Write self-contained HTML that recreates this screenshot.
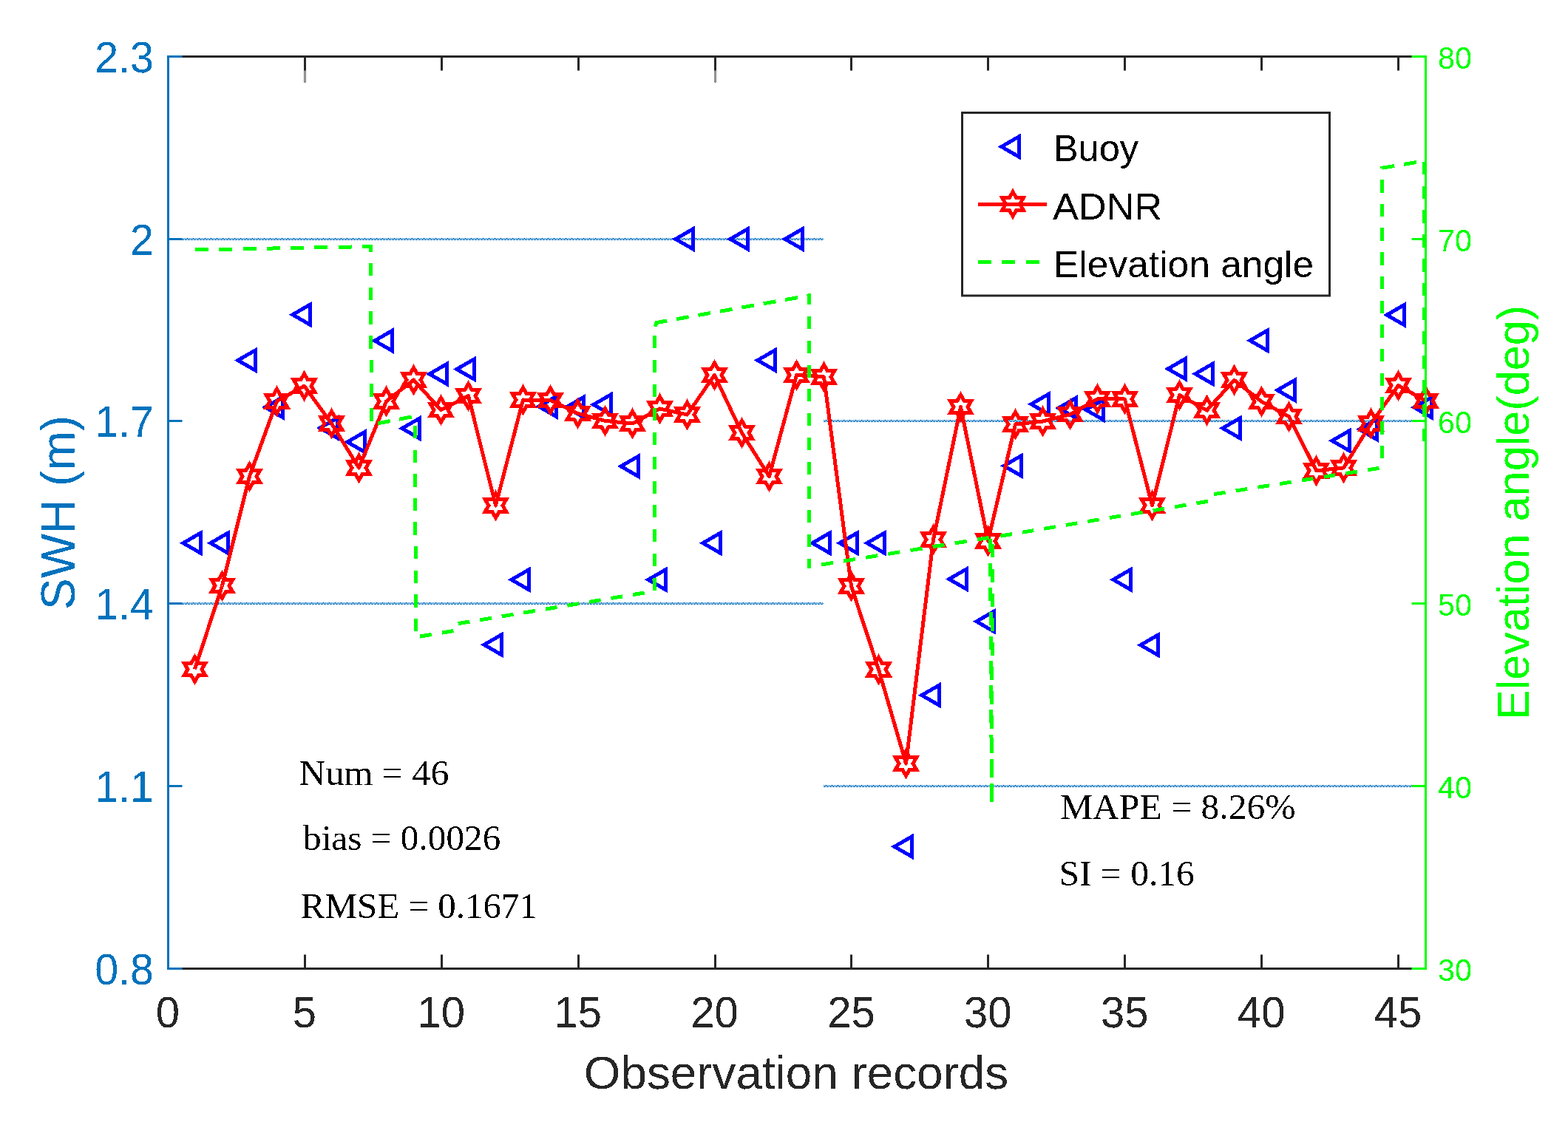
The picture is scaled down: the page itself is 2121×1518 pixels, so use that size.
<!DOCTYPE html>
<html><head><meta charset="utf-8"><title>SWH comparison plot</title>
<style>html,body{margin:0;padding:0;background:#fff;}svg{display:block;}</style></head>
<body>
<svg width="2121" height="1518" viewBox="0 0 2121 1518">
<rect x="0" y="0" width="2121" height="1518" fill="#ffffff"/>
<defs><filter id="bin" x="-10%" y="-20%" width="120%" height="140%" filterUnits="objectBoundingBox" color-interpolation-filters="sRGB"><feComponentTransfer><feFuncA type="discrete" tableValues="0 1"/></feComponentTransfer></filter></defs>
<defs><pattern id="g1" patternUnits="userSpaceOnUse" x="0" y="322" width="8" height="3"><rect x="0" y="0" width="1" height="1" fill="#0070BE"/><rect x="2" y="0" width="1" height="1" fill="#0070BE"/><rect x="4" y="0" width="1" height="1" fill="#0070BE"/><rect x="5" y="0" width="1" height="1" fill="#0070BE"/><rect x="6" y="0" width="1" height="1" fill="#0070BE"/><rect x="1" y="1" width="1" height="1" fill="#0070BE"/><rect x="3" y="1" width="1" height="1" fill="#0070BE"/><rect x="5" y="1" width="1" height="1" fill="#0070BE"/><rect x="7" y="1" width="1" height="1" fill="#0070BE"/><rect x="0" y="2" width="1" height="1" fill="#0070BE"/><rect x="2" y="2" width="1" height="1" fill="#0070BE"/><rect x="3" y="2" width="1" height="1" fill="#0070BE"/><rect x="4" y="2" width="1" height="1" fill="#0070BE"/><rect x="6" y="2" width="1" height="1" fill="#0070BE"/><rect x="7" y="2" width="1" height="1" fill="#0070BE"/></pattern><pattern id="g2" patternUnits="userSpaceOnUse" x="0" y="568" width="8" height="3"><rect x="0" y="0" width="1" height="1" fill="#0070BE"/><rect x="2" y="0" width="1" height="1" fill="#0070BE"/><rect x="4" y="0" width="1" height="1" fill="#0070BE"/><rect x="5" y="0" width="1" height="1" fill="#0070BE"/><rect x="6" y="0" width="1" height="1" fill="#0070BE"/><rect x="1" y="1" width="1" height="1" fill="#0070BE"/><rect x="3" y="1" width="1" height="1" fill="#0070BE"/><rect x="5" y="1" width="1" height="1" fill="#0070BE"/><rect x="7" y="1" width="1" height="1" fill="#0070BE"/><rect x="0" y="2" width="1" height="1" fill="#0070BE"/><rect x="2" y="2" width="1" height="1" fill="#0070BE"/><rect x="3" y="2" width="1" height="1" fill="#0070BE"/><rect x="4" y="2" width="1" height="1" fill="#0070BE"/><rect x="6" y="2" width="1" height="1" fill="#0070BE"/><rect x="7" y="2" width="1" height="1" fill="#0070BE"/></pattern><pattern id="g3" patternUnits="userSpaceOnUse" x="0" y="815" width="8" height="3"><rect x="0" y="0" width="1" height="1" fill="#0070BE"/><rect x="2" y="0" width="1" height="1" fill="#0070BE"/><rect x="4" y="0" width="1" height="1" fill="#0070BE"/><rect x="5" y="0" width="1" height="1" fill="#0070BE"/><rect x="6" y="0" width="1" height="1" fill="#0070BE"/><rect x="1" y="1" width="1" height="1" fill="#0070BE"/><rect x="3" y="1" width="1" height="1" fill="#0070BE"/><rect x="5" y="1" width="1" height="1" fill="#0070BE"/><rect x="7" y="1" width="1" height="1" fill="#0070BE"/><rect x="0" y="2" width="1" height="1" fill="#0070BE"/><rect x="2" y="2" width="1" height="1" fill="#0070BE"/><rect x="3" y="2" width="1" height="1" fill="#0070BE"/><rect x="4" y="2" width="1" height="1" fill="#0070BE"/><rect x="6" y="2" width="1" height="1" fill="#0070BE"/><rect x="7" y="2" width="1" height="1" fill="#0070BE"/></pattern><pattern id="g4" patternUnits="userSpaceOnUse" x="0" y="1062" width="8" height="3"><rect x="0" y="0" width="1" height="1" fill="#0070BE"/><rect x="2" y="0" width="1" height="1" fill="#0070BE"/><rect x="4" y="0" width="1" height="1" fill="#0070BE"/><rect x="5" y="0" width="1" height="1" fill="#0070BE"/><rect x="6" y="0" width="1" height="1" fill="#0070BE"/><rect x="1" y="1" width="1" height="1" fill="#0070BE"/><rect x="3" y="1" width="1" height="1" fill="#0070BE"/><rect x="5" y="1" width="1" height="1" fill="#0070BE"/><rect x="7" y="1" width="1" height="1" fill="#0070BE"/><rect x="0" y="2" width="1" height="1" fill="#0070BE"/><rect x="2" y="2" width="1" height="1" fill="#0070BE"/><rect x="3" y="2" width="1" height="1" fill="#0070BE"/><rect x="4" y="2" width="1" height="1" fill="#0070BE"/><rect x="6" y="2" width="1" height="1" fill="#0070BE"/><rect x="7" y="2" width="1" height="1" fill="#0070BE"/></pattern></defs>
<rect x="228" y="322" width="886" height="3" fill="url(#g1)"/>
<rect x="1114" y="568" width="796" height="3" fill="url(#g2)"/>
<rect x="228" y="815" width="886" height="3" fill="url(#g3)"/>
<rect x="1114" y="1062" width="813" height="3" fill="url(#g4)"/>
<defs><pattern id="tk0" patternUnits="userSpaceOnUse" x="411" y="95" width="2" height="2"><rect x="1" y="0" width="1" height="1" fill="#262626"/><rect x="0" y="1" width="1" height="1" fill="#262626"/></pattern></defs>
<rect x="411" y="95" width="3" height="17" fill="url(#tk0)"/>
<defs><pattern id="tk1" patternUnits="userSpaceOnUse" x="966" y="95" width="2" height="2"><rect x="1" y="0" width="1" height="1" fill="#262626"/><rect x="0" y="1" width="1" height="1" fill="#262626"/></pattern></defs>
<rect x="966" y="95" width="3" height="17" fill="url(#tk1)"/>
<path d="M247.85,734.70 L271.32,721.15 L271.32,748.25 Z M284.85,734.70 L308.32,721.15 L308.32,748.25 Z M321.85,487.50 L345.32,473.95 L345.32,501.05 Z M358.85,551.00 L382.32,537.45 L382.32,564.55 Z M395.85,425.70 L419.32,412.15 L419.32,439.25 Z M432.85,579.00 L456.32,565.45 L456.32,592.55 Z M469.85,598.00 L493.32,584.45 L493.32,611.55 Z M506.85,461.00 L530.33,447.45 L530.33,474.55 Z M543.85,579.60 L567.33,566.05 L567.33,593.15 Z M580.85,506.00 L604.33,492.45 L604.33,519.55 Z M617.85,499.50 L641.33,485.95 L641.33,513.05 Z M654.85,872.30 L678.33,858.75 L678.33,885.85 Z M691.85,784.30 L715.33,770.75 L715.33,797.85 Z M728.85,550.00 L752.33,536.45 L752.33,563.55 Z M765.85,551.00 L789.33,537.45 L789.33,564.55 Z M802.85,547.40 L826.33,533.85 L826.33,560.95 Z M839.85,630.90 L863.33,617.35 L863.33,644.45 Z M876.85,784.30 L900.33,770.75 L900.33,797.85 Z M913.85,323.40 L937.33,309.85 L937.33,336.95 Z M950.85,734.70 L974.33,721.15 L974.33,748.25 Z M987.85,323.40 L1011.33,309.85 L1011.33,336.95 Z M1024.85,487.40 L1048.33,473.85 L1048.33,500.95 Z M1061.85,323.40 L1085.33,309.85 L1085.33,336.95 Z M1098.85,734.70 L1122.33,721.15 L1122.33,748.25 Z M1135.85,734.70 L1159.33,721.15 L1159.33,748.25 Z M1172.85,734.70 L1196.33,721.15 L1196.33,748.25 Z M1209.85,1145.40 L1233.33,1131.85 L1233.33,1158.95 Z M1246.85,940.60 L1270.33,927.05 L1270.33,954.15 Z M1283.85,783.50 L1307.33,769.95 L1307.33,797.05 Z M1320.85,840.80 L1344.33,827.25 L1344.33,854.35 Z M1357.85,630.20 L1381.33,616.65 L1381.33,643.75 Z M1394.85,546.80 L1418.33,533.25 L1418.33,560.35 Z M1431.85,552.00 L1455.33,538.45 L1455.33,565.55 Z M1468.85,554.40 L1492.33,540.85 L1492.33,567.95 Z M1505.85,784.20 L1529.33,770.65 L1529.33,797.75 Z M1542.85,872.70 L1566.33,859.15 L1566.33,886.25 Z M1579.85,499.00 L1603.33,485.45 L1603.33,512.55 Z M1616.85,505.80 L1640.33,492.25 L1640.33,519.35 Z M1653.85,579.30 L1677.33,565.75 L1677.33,592.85 Z M1690.85,460.70 L1714.33,447.15 L1714.33,474.25 Z M1727.85,527.90 L1751.33,514.35 L1751.33,541.45 Z M1801.85,596.30 L1825.33,582.75 L1825.33,609.85 Z M1838.85,580.90 L1862.33,567.35 L1862.33,594.45 Z M1875.85,426.10 L1899.33,412.55 L1899.33,439.65 Z M1912.85,551.20 L1936.33,537.65 L1936.33,564.75 Z" fill="none" stroke="#0000FF" stroke-width="5" stroke-linejoin="miter" stroke-miterlimit="10" shape-rendering="crispEdges"/>
<polyline points="263.50,905.50 300.50,792.50 337.50,644.50 374.50,542.80 411.50,522.20 448.50,573.00 485.50,633.00 522.50,543.00 559.50,514.00 596.50,554.70 633.50,535.70 670.50,684.00 707.50,541.00 744.50,541.50 781.50,559.30 818.50,569.40 855.50,573.00 892.50,553.00 929.50,561.00 966.50,507.50 1003.50,585.70 1040.50,644.60 1077.50,507.50 1114.50,510.00 1151.50,793.00 1188.50,905.80 1225.50,1033.00 1262.50,730.00 1299.50,550.60 1336.50,732.00 1373.50,574.00 1410.50,570.00 1447.50,560.70 1484.50,539.80 1521.50,540.00 1558.50,683.80 1595.50,534.60 1632.50,555.20 1669.50,514.20 1706.50,543.30 1743.50,563.60 1780.50,636.80 1817.50,632.90 1854.50,573.00 1891.50,521.60 1928.50,542.30" fill="none" stroke="#FF0000" stroke-width="5" stroke-linejoin="round" shape-rendering="crispEdges"/>
<path d="M263.50,889.00 L258.74,897.25 L249.21,897.25 L253.97,905.50 L249.21,913.75 L258.74,913.75 L263.50,922.00 L268.26,913.75 L277.79,913.75 L273.03,905.50 L277.79,897.25 L268.26,897.25 Z M300.50,776.00 L295.74,784.25 L286.21,784.25 L290.97,792.50 L286.21,800.75 L295.74,800.75 L300.50,809.00 L305.26,800.75 L314.79,800.75 L310.03,792.50 L314.79,784.25 L305.26,784.25 Z M337.50,628.00 L332.74,636.25 L323.21,636.25 L327.97,644.50 L323.21,652.75 L332.74,652.75 L337.50,661.00 L342.26,652.75 L351.79,652.75 L347.03,644.50 L351.79,636.25 L342.26,636.25 Z M374.50,526.30 L369.74,534.55 L360.21,534.55 L364.97,542.80 L360.21,551.05 L369.74,551.05 L374.50,559.30 L379.26,551.05 L388.79,551.05 L384.03,542.80 L388.79,534.55 L379.26,534.55 Z M411.50,505.70 L406.74,513.95 L397.21,513.95 L401.97,522.20 L397.21,530.45 L406.74,530.45 L411.50,538.70 L416.26,530.45 L425.79,530.45 L421.03,522.20 L425.79,513.95 L416.26,513.95 Z M448.50,556.50 L443.74,564.75 L434.21,564.75 L438.97,573.00 L434.21,581.25 L443.74,581.25 L448.50,589.50 L453.26,581.25 L462.79,581.25 L458.03,573.00 L462.79,564.75 L453.26,564.75 Z M485.50,616.50 L480.74,624.75 L471.21,624.75 L475.97,633.00 L471.21,641.25 L480.74,641.25 L485.50,649.50 L490.26,641.25 L499.79,641.25 L495.03,633.00 L499.79,624.75 L490.26,624.75 Z M522.50,526.50 L517.74,534.75 L508.21,534.75 L512.97,543.00 L508.21,551.25 L517.74,551.25 L522.50,559.50 L527.26,551.25 L536.79,551.25 L532.03,543.00 L536.79,534.75 L527.26,534.75 Z M559.50,497.50 L554.74,505.75 L545.21,505.75 L549.97,514.00 L545.21,522.25 L554.74,522.25 L559.50,530.50 L564.26,522.25 L573.79,522.25 L569.03,514.00 L573.79,505.75 L564.26,505.75 Z M596.50,538.20 L591.74,546.45 L582.21,546.45 L586.97,554.70 L582.21,562.95 L591.74,562.95 L596.50,571.20 L601.26,562.95 L610.79,562.95 L606.03,554.70 L610.79,546.45 L601.26,546.45 Z M633.50,519.20 L628.74,527.45 L619.21,527.45 L623.97,535.70 L619.21,543.95 L628.74,543.95 L633.50,552.20 L638.26,543.95 L647.79,543.95 L643.03,535.70 L647.79,527.45 L638.26,527.45 Z M670.50,667.50 L665.74,675.75 L656.21,675.75 L660.97,684.00 L656.21,692.25 L665.74,692.25 L670.50,700.50 L675.26,692.25 L684.79,692.25 L680.03,684.00 L684.79,675.75 L675.26,675.75 Z M707.50,524.50 L702.74,532.75 L693.21,532.75 L697.97,541.00 L693.21,549.25 L702.74,549.25 L707.50,557.50 L712.26,549.25 L721.79,549.25 L717.03,541.00 L721.79,532.75 L712.26,532.75 Z M744.50,525.00 L739.74,533.25 L730.21,533.25 L734.97,541.50 L730.21,549.75 L739.74,549.75 L744.50,558.00 L749.26,549.75 L758.79,549.75 L754.03,541.50 L758.79,533.25 L749.26,533.25 Z M781.50,542.80 L776.74,551.05 L767.21,551.05 L771.97,559.30 L767.21,567.55 L776.74,567.55 L781.50,575.80 L786.26,567.55 L795.79,567.55 L791.03,559.30 L795.79,551.05 L786.26,551.05 Z M818.50,552.90 L813.74,561.15 L804.21,561.15 L808.97,569.40 L804.21,577.65 L813.74,577.65 L818.50,585.90 L823.26,577.65 L832.79,577.65 L828.03,569.40 L832.79,561.15 L823.26,561.15 Z M855.50,556.50 L850.74,564.75 L841.21,564.75 L845.97,573.00 L841.21,581.25 L850.74,581.25 L855.50,589.50 L860.26,581.25 L869.79,581.25 L865.03,573.00 L869.79,564.75 L860.26,564.75 Z M892.50,536.50 L887.74,544.75 L878.21,544.75 L882.97,553.00 L878.21,561.25 L887.74,561.25 L892.50,569.50 L897.26,561.25 L906.79,561.25 L902.03,553.00 L906.79,544.75 L897.26,544.75 Z M929.50,544.50 L924.74,552.75 L915.21,552.75 L919.97,561.00 L915.21,569.25 L924.74,569.25 L929.50,577.50 L934.26,569.25 L943.79,569.25 L939.03,561.00 L943.79,552.75 L934.26,552.75 Z M966.50,491.00 L961.74,499.25 L952.21,499.25 L956.97,507.50 L952.21,515.75 L961.74,515.75 L966.50,524.00 L971.26,515.75 L980.79,515.75 L976.03,507.50 L980.79,499.25 L971.26,499.25 Z M1003.50,569.20 L998.74,577.45 L989.21,577.45 L993.97,585.70 L989.21,593.95 L998.74,593.95 L1003.50,602.20 L1008.26,593.95 L1017.79,593.95 L1013.03,585.70 L1017.79,577.45 L1008.26,577.45 Z M1040.50,628.10 L1035.74,636.35 L1026.21,636.35 L1030.97,644.60 L1026.21,652.85 L1035.74,652.85 L1040.50,661.10 L1045.26,652.85 L1054.79,652.85 L1050.03,644.60 L1054.79,636.35 L1045.26,636.35 Z M1077.50,491.00 L1072.74,499.25 L1063.21,499.25 L1067.97,507.50 L1063.21,515.75 L1072.74,515.75 L1077.50,524.00 L1082.26,515.75 L1091.79,515.75 L1087.03,507.50 L1091.79,499.25 L1082.26,499.25 Z M1114.50,493.50 L1109.74,501.75 L1100.21,501.75 L1104.97,510.00 L1100.21,518.25 L1109.74,518.25 L1114.50,526.50 L1119.26,518.25 L1128.79,518.25 L1124.03,510.00 L1128.79,501.75 L1119.26,501.75 Z M1151.50,776.50 L1146.74,784.75 L1137.21,784.75 L1141.97,793.00 L1137.21,801.25 L1146.74,801.25 L1151.50,809.50 L1156.26,801.25 L1165.79,801.25 L1161.03,793.00 L1165.79,784.75 L1156.26,784.75 Z M1188.50,889.30 L1183.74,897.55 L1174.21,897.55 L1178.97,905.80 L1174.21,914.05 L1183.74,914.05 L1188.50,922.30 L1193.26,914.05 L1202.79,914.05 L1198.03,905.80 L1202.79,897.55 L1193.26,897.55 Z M1225.50,1016.50 L1220.74,1024.75 L1211.21,1024.75 L1215.97,1033.00 L1211.21,1041.25 L1220.74,1041.25 L1225.50,1049.50 L1230.26,1041.25 L1239.79,1041.25 L1235.03,1033.00 L1239.79,1024.75 L1230.26,1024.75 Z M1262.50,713.50 L1257.74,721.75 L1248.21,721.75 L1252.97,730.00 L1248.21,738.25 L1257.74,738.25 L1262.50,746.50 L1267.26,738.25 L1276.79,738.25 L1272.03,730.00 L1276.79,721.75 L1267.26,721.75 Z M1299.50,534.10 L1294.74,542.35 L1285.21,542.35 L1289.97,550.60 L1285.21,558.85 L1294.74,558.85 L1299.50,567.10 L1304.26,558.85 L1313.79,558.85 L1309.03,550.60 L1313.79,542.35 L1304.26,542.35 Z M1336.50,715.50 L1331.74,723.75 L1322.21,723.75 L1326.97,732.00 L1322.21,740.25 L1331.74,740.25 L1336.50,748.50 L1341.26,740.25 L1350.79,740.25 L1346.03,732.00 L1350.79,723.75 L1341.26,723.75 Z M1373.50,557.50 L1368.74,565.75 L1359.21,565.75 L1363.97,574.00 L1359.21,582.25 L1368.74,582.25 L1373.50,590.50 L1378.26,582.25 L1387.79,582.25 L1383.03,574.00 L1387.79,565.75 L1378.26,565.75 Z M1410.50,553.50 L1405.74,561.75 L1396.21,561.75 L1400.97,570.00 L1396.21,578.25 L1405.74,578.25 L1410.50,586.50 L1415.26,578.25 L1424.79,578.25 L1420.03,570.00 L1424.79,561.75 L1415.26,561.75 Z M1447.50,544.20 L1442.74,552.45 L1433.21,552.45 L1437.97,560.70 L1433.21,568.95 L1442.74,568.95 L1447.50,577.20 L1452.26,568.95 L1461.79,568.95 L1457.03,560.70 L1461.79,552.45 L1452.26,552.45 Z M1484.50,523.30 L1479.74,531.55 L1470.21,531.55 L1474.97,539.80 L1470.21,548.05 L1479.74,548.05 L1484.50,556.30 L1489.26,548.05 L1498.79,548.05 L1494.03,539.80 L1498.79,531.55 L1489.26,531.55 Z M1521.50,523.50 L1516.74,531.75 L1507.21,531.75 L1511.97,540.00 L1507.21,548.25 L1516.74,548.25 L1521.50,556.50 L1526.26,548.25 L1535.79,548.25 L1531.03,540.00 L1535.79,531.75 L1526.26,531.75 Z M1558.50,667.30 L1553.74,675.55 L1544.21,675.55 L1548.97,683.80 L1544.21,692.05 L1553.74,692.05 L1558.50,700.30 L1563.26,692.05 L1572.79,692.05 L1568.03,683.80 L1572.79,675.55 L1563.26,675.55 Z M1595.50,518.10 L1590.74,526.35 L1581.21,526.35 L1585.97,534.60 L1581.21,542.85 L1590.74,542.85 L1595.50,551.10 L1600.26,542.85 L1609.79,542.85 L1605.03,534.60 L1609.79,526.35 L1600.26,526.35 Z M1632.50,538.70 L1627.74,546.95 L1618.21,546.95 L1622.97,555.20 L1618.21,563.45 L1627.74,563.45 L1632.50,571.70 L1637.26,563.45 L1646.79,563.45 L1642.03,555.20 L1646.79,546.95 L1637.26,546.95 Z M1669.50,497.70 L1664.74,505.95 L1655.21,505.95 L1659.97,514.20 L1655.21,522.45 L1664.74,522.45 L1669.50,530.70 L1674.26,522.45 L1683.79,522.45 L1679.03,514.20 L1683.79,505.95 L1674.26,505.95 Z M1706.50,526.80 L1701.74,535.05 L1692.21,535.05 L1696.97,543.30 L1692.21,551.55 L1701.74,551.55 L1706.50,559.80 L1711.26,551.55 L1720.79,551.55 L1716.03,543.30 L1720.79,535.05 L1711.26,535.05 Z M1743.50,547.10 L1738.74,555.35 L1729.21,555.35 L1733.97,563.60 L1729.21,571.85 L1738.74,571.85 L1743.50,580.10 L1748.26,571.85 L1757.79,571.85 L1753.03,563.60 L1757.79,555.35 L1748.26,555.35 Z M1780.50,620.30 L1775.74,628.55 L1766.21,628.55 L1770.97,636.80 L1766.21,645.05 L1775.74,645.05 L1780.50,653.30 L1785.26,645.05 L1794.79,645.05 L1790.03,636.80 L1794.79,628.55 L1785.26,628.55 Z M1817.50,616.40 L1812.74,624.65 L1803.21,624.65 L1807.97,632.90 L1803.21,641.15 L1812.74,641.15 L1817.50,649.40 L1822.26,641.15 L1831.79,641.15 L1827.03,632.90 L1831.79,624.65 L1822.26,624.65 Z M1854.50,556.50 L1849.74,564.75 L1840.21,564.75 L1844.97,573.00 L1840.21,581.25 L1849.74,581.25 L1854.50,589.50 L1859.26,581.25 L1868.79,581.25 L1864.03,573.00 L1868.79,564.75 L1859.26,564.75 Z M1891.50,505.10 L1886.74,513.35 L1877.21,513.35 L1881.97,521.60 L1877.21,529.85 L1886.74,529.85 L1891.50,538.10 L1896.26,529.85 L1905.79,529.85 L1901.03,521.60 L1905.79,513.35 L1896.26,513.35 Z M1928.50,525.80 L1923.74,534.05 L1914.21,534.05 L1918.97,542.30 L1914.21,550.55 L1923.74,550.55 L1928.50,558.80 L1933.26,550.55 L1942.79,550.55 L1938.03,542.30 L1942.79,534.05 L1933.26,534.05 Z" fill="none" stroke="#FF0000" stroke-width="5" stroke-linejoin="miter" stroke-miterlimit="10" shape-rendering="crispEdges"/>
<path d="M264.00,338.00 L282.00,337.66 M296.29,337.39 L314.29,337.05 M328.59,336.78 L346.59,336.43 M360.88,336.16 L378.88,335.82 M393.18,335.55 L411.17,335.21 M425.47,334.94 L443.47,334.60 M457.77,334.33 L475.76,333.99 M490.06,333.71 L501.40,333.50 L501.43,340.83 M501.49,356.00 L501.57,373.50 M501.63,388.67 L501.70,406.17 M501.76,421.34 L501.84,438.84 M501.90,454.01 L501.97,471.51 M502.04,486.68 L502.11,504.18 M502.17,519.35 L502.24,536.85 M502.31,552.02 L502.38,569.52 M511.04,572.82 L527.73,569.57 M539.99,567.18 L556.68,563.94 M561.54,576.00 L561.59,593.50 M561.64,608.60 L561.69,626.10 M561.74,641.20 L561.79,658.70 M561.83,673.80 L561.89,691.30 M561.93,706.40 L561.98,723.90 M562.03,739.00 L562.08,756.50 M562.13,771.60 L562.18,789.10 M562.23,804.20 L562.28,821.70 M562.32,836.80 L562.38,854.30 M567.92,861.08 L583.71,858.46 M598.01,856.08 L613.50,853.50 M619.63,843.65 L635.42,841.04 M649.17,838.77 L664.96,836.16 M678.71,833.89 L694.50,831.28 M708.25,829.01 L724.04,826.40 M737.79,824.12 L753.57,821.52 M767.33,819.24 L783.11,816.63 M796.87,814.36 L812.65,811.75 M826.41,809.48 L842.19,806.87 M855.95,804.60 L871.73,801.99 M885.00,798.50 L885.00,781.50 M885.00,765.75 L885.00,748.75 M885.00,733.00 L885.00,716.00 M885.00,700.25 L885.00,683.25 M885.00,667.50 L885.00,650.50 M885.00,634.75 L885.00,617.75 M885.00,602.00 L885.00,585.00 M885.00,569.25 L885.00,552.25 M885.00,536.50 L885.00,519.50 M885.00,503.75 L885.00,486.75 M885.00,471.00 L885.00,454.00 M886.32,441.80 L888.00,436.50 L902.28,433.96 M914.98,431.71 L931.71,428.73 M944.42,426.47 L961.15,423.50 M973.85,421.24 L990.59,418.27 M1003.29,416.01 L1020.03,413.03 M1032.73,410.78 L1049.47,407.80 M1062.17,405.55 L1078.91,402.57 M1091.61,400.31 L1094.50,399.80 L1094.52,412.20 M1094.54,428.00 L1094.56,445.00 M1094.58,460.80 L1094.61,477.80 M1094.63,493.60 L1094.65,510.60 M1094.67,526.40 L1094.70,543.40 M1094.72,559.20 L1094.74,576.20 M1094.76,592.00 L1094.79,609.00 M1094.81,624.80 L1094.83,641.80 M1094.85,657.60 L1094.87,674.60 M1094.90,690.40 L1094.92,707.40 M1094.94,723.20 L1094.96,740.20 M1094.99,756.00 L1095.00,766.50 L1096.88,766.20 M1110.99,763.93 L1126.99,761.36 M1141.11,759.09 L1157.10,756.52 M1171.22,754.25 L1187.22,751.68 M1201.34,749.41 L1217.33,746.84 M1231.45,744.57 L1247.44,742.00 M1261.56,739.73 L1277.56,737.16 M1291.68,734.89 L1307.67,732.32 M1321.79,730.05 L1337.78,727.48 M1339.51,728.80 L1339.61,746.80 M1339.69,761.90 L1339.79,779.90 M1339.88,795.00 L1339.98,813.00 M1340.06,828.10 L1340.16,846.10 M1340.25,861.20 L1340.35,879.20 M1340.43,894.30 L1340.53,912.30 M1340.62,927.40 L1340.72,945.40 M1340.80,960.50 L1340.90,978.50 M1340.99,993.60 L1341.09,1011.60 M1341.17,1026.70 L1341.27,1044.70 M1341.36,1059.79 L1341.46,1077.79 M1341.50,1085.50 L1341.55,1067.50 M1341.59,1052.40 L1341.64,1034.40 M1341.68,1019.30 L1341.73,1001.30 M1341.78,986.20 L1341.83,968.20 M1341.87,953.10 L1341.92,935.10 M1341.96,920.00 L1342.01,902.00 M1342.05,886.90 L1342.10,868.90 M1342.15,853.80 L1342.20,835.80 M1342.24,820.70 L1342.29,802.70 M1342.33,787.60 L1342.38,769.60 M1342.42,754.50 L1342.47,736.50 M1353.40,725.18 L1368.88,722.59 M1382.86,720.25 L1398.35,717.67 M1412.32,715.33 L1427.81,712.74 M1441.78,710.41 L1457.27,707.82 M1471.24,705.48 L1486.73,702.90 M1500.71,700.56 L1516.19,697.97 M1530.17,695.64 L1545.65,693.05 M1559.63,690.71 L1575.11,688.12 M1589.09,685.79 L1604.58,683.20 M1618.55,680.87 L1634.04,678.28 M1641.98,668.69 L1657.48,666.24 M1671.71,663.99 L1687.21,661.54 M1701.44,659.29 L1716.94,656.84 M1731.17,654.59 L1746.68,652.14 M1760.90,649.89 L1776.41,647.44 M1790.63,645.19 L1806.14,642.74 M1820.36,640.49 L1835.87,638.04 M1850.09,635.79 L1865.60,633.34 M1869.02,620.30 L1869.04,602.80 M1869.06,587.60 L1869.08,570.10 M1869.10,554.90 L1869.12,537.40 M1869.14,522.20 L1869.16,504.70 M1869.18,489.50 L1869.20,472.00 M1869.22,456.80 L1869.24,439.30 M1869.26,424.10 L1869.28,406.60 M1869.30,391.40 L1869.32,373.90 M1869.34,358.70 L1869.36,341.20 M1869.38,326.00 L1869.40,308.50 M1869.42,293.30 L1869.44,275.80 M1869.46,260.60 L1869.48,243.10 M1869.50,227.90 L1869.50,227.30 L1886.26,224.48 M1899.08,222.32 L1915.85,219.49 M1926.50,218.90 L1926.52,236.40 M1926.54,251.70 L1926.57,269.20 M1926.59,284.50 L1926.61,302.00 M1926.63,317.30 L1926.65,334.80 M1926.67,350.10 L1926.70,367.60 M1926.72,382.90 L1926.74,400.40 M1926.76,415.70 L1926.78,433.20 M1926.80,448.50 L1926.83,466.00 M1926.85,481.30 L1926.87,498.80 M1926.89,514.10 L1926.91,531.60 M1926.93,546.90 L1926.96,564.40 M1926.98,579.70 L1927.00,597.20" fill="none" stroke="#00FF00" stroke-width="5" stroke-linecap="butt" stroke-linejoin="miter" stroke-miterlimit="10" shape-rendering="crispEdges"/>
<line x1="227.5" y1="76.5" x2="1928.5" y2="76.5" stroke="#262626" stroke-width="3"/>
<line x1="227.5" y1="1310.5" x2="1928.5" y2="1310.5" stroke="#262626" stroke-width="3"/>
<line x1="227.50" y1="1310.5" x2="227.50" y2="1291.50" stroke="#262626" stroke-width="3"/>
<line x1="227.50" y1="76.5" x2="227.50" y2="95.50" stroke="#262626" stroke-width="3"/>
<line x1="412.50" y1="1310.5" x2="412.50" y2="1291.50" stroke="#262626" stroke-width="3"/>
<line x1="412.50" y1="76.5" x2="412.50" y2="95.50" stroke="#262626" stroke-width="3"/>
<line x1="597.50" y1="1310.5" x2="597.50" y2="1291.50" stroke="#262626" stroke-width="3"/>
<line x1="597.50" y1="76.5" x2="597.50" y2="95.50" stroke="#262626" stroke-width="3"/>
<line x1="782.50" y1="1310.5" x2="782.50" y2="1291.50" stroke="#262626" stroke-width="3"/>
<line x1="782.50" y1="76.5" x2="782.50" y2="95.50" stroke="#262626" stroke-width="3"/>
<line x1="967.50" y1="1310.5" x2="967.50" y2="1291.50" stroke="#262626" stroke-width="3"/>
<line x1="967.50" y1="76.5" x2="967.50" y2="95.50" stroke="#262626" stroke-width="3"/>
<line x1="1151.50" y1="1310.5" x2="1151.50" y2="1291.50" stroke="#262626" stroke-width="3"/>
<line x1="1151.50" y1="76.5" x2="1151.50" y2="95.50" stroke="#262626" stroke-width="3"/>
<line x1="1336.50" y1="1310.5" x2="1336.50" y2="1291.50" stroke="#262626" stroke-width="3"/>
<line x1="1336.50" y1="76.5" x2="1336.50" y2="95.50" stroke="#262626" stroke-width="3"/>
<line x1="1521.50" y1="1310.5" x2="1521.50" y2="1291.50" stroke="#262626" stroke-width="3"/>
<line x1="1521.50" y1="76.5" x2="1521.50" y2="95.50" stroke="#262626" stroke-width="3"/>
<line x1="1706.50" y1="1310.5" x2="1706.50" y2="1291.50" stroke="#262626" stroke-width="3"/>
<line x1="1706.50" y1="76.5" x2="1706.50" y2="95.50" stroke="#262626" stroke-width="3"/>
<line x1="1891.50" y1="1310.5" x2="1891.50" y2="1291.50" stroke="#262626" stroke-width="3"/>
<line x1="1891.50" y1="76.5" x2="1891.50" y2="95.50" stroke="#262626" stroke-width="3"/>
<line x1="227.5" y1="75.0" x2="227.5" y2="1312.0" stroke="#0072BD" stroke-width="3"/>
<line x1="227.5" y1="1310.50" x2="246.50" y2="1310.50" stroke="#0072BD" stroke-width="3"/>
<line x1="227.5" y1="1063.50" x2="246.50" y2="1063.50" stroke="#0072BD" stroke-width="3"/>
<line x1="227.5" y1="816.50" x2="246.50" y2="816.50" stroke="#0072BD" stroke-width="3"/>
<line x1="227.5" y1="569.50" x2="246.50" y2="569.50" stroke="#0072BD" stroke-width="3"/>
<line x1="227.5" y1="323.50" x2="246.50" y2="323.50" stroke="#0072BD" stroke-width="3"/>
<line x1="227.5" y1="76.50" x2="246.50" y2="76.50" stroke="#0072BD" stroke-width="3"/>
<line x1="1928.5" y1="75.0" x2="1928.5" y2="1312.0" stroke="#00FF00" stroke-width="3"/>
<line x1="1928.5" y1="1310.50" x2="1909.50" y2="1310.50" stroke="#00FF00" stroke-width="3"/>
<line x1="1928.5" y1="1063.50" x2="1909.50" y2="1063.50" stroke="#00FF00" stroke-width="3"/>
<line x1="1928.5" y1="816.50" x2="1909.50" y2="816.50" stroke="#00FF00" stroke-width="3"/>
<line x1="1928.5" y1="569.50" x2="1909.50" y2="569.50" stroke="#00FF00" stroke-width="3"/>
<line x1="1928.5" y1="323.50" x2="1909.50" y2="323.50" stroke="#00FF00" stroke-width="3"/>
<line x1="1928.5" y1="76.50" x2="1909.50" y2="76.50" stroke="#00FF00" stroke-width="3"/>
<text filter="url(#bin)" transform="translate(208,1332.30) scale(0.965,1)" text-anchor="end" font-family="'Liberation Sans', Arial, Helvetica, sans-serif" font-size="59.5" fill="#0072BD">0.8</text>
<text filter="url(#bin)" transform="translate(208,1085.30) scale(0.965,1)" text-anchor="end" font-family="'Liberation Sans', Arial, Helvetica, sans-serif" font-size="59.5" fill="#0072BD">1.1</text>
<text filter="url(#bin)" transform="translate(208,838.30) scale(0.965,1)" text-anchor="end" font-family="'Liberation Sans', Arial, Helvetica, sans-serif" font-size="59.5" fill="#0072BD">1.4</text>
<text filter="url(#bin)" transform="translate(208,591.30) scale(0.965,1)" text-anchor="end" font-family="'Liberation Sans', Arial, Helvetica, sans-serif" font-size="59.5" fill="#0072BD">1.7</text>
<text filter="url(#bin)" transform="translate(208,345.30) scale(0.965,1)" text-anchor="end" font-family="'Liberation Sans', Arial, Helvetica, sans-serif" font-size="59.5" fill="#0072BD">2</text>
<text filter="url(#bin)" transform="translate(208,98.30) scale(0.965,1)" text-anchor="end" font-family="'Liberation Sans', Arial, Helvetica, sans-serif" font-size="59.5" fill="#0072BD">2.3</text>
<text filter="url(#bin)" transform="translate(227.00,1389.8) scale(0.975,1)" text-anchor="middle" font-family="'Liberation Sans', Arial, Helvetica, sans-serif" font-size="59.5" fill="#262626">0</text>
<text filter="url(#bin)" transform="translate(411.89,1389.8) scale(0.975,1)" text-anchor="middle" font-family="'Liberation Sans', Arial, Helvetica, sans-serif" font-size="59.5" fill="#262626">5</text>
<text filter="url(#bin)" transform="translate(596.78,1389.8) scale(0.975,1)" text-anchor="middle" font-family="'Liberation Sans', Arial, Helvetica, sans-serif" font-size="59.5" fill="#262626">10</text>
<text filter="url(#bin)" transform="translate(781.67,1389.8) scale(0.975,1)" text-anchor="middle" font-family="'Liberation Sans', Arial, Helvetica, sans-serif" font-size="59.5" fill="#262626">15</text>
<text filter="url(#bin)" transform="translate(966.57,1389.8) scale(0.975,1)" text-anchor="middle" font-family="'Liberation Sans', Arial, Helvetica, sans-serif" font-size="59.5" fill="#262626">20</text>
<text filter="url(#bin)" transform="translate(1151.46,1389.8) scale(0.975,1)" text-anchor="middle" font-family="'Liberation Sans', Arial, Helvetica, sans-serif" font-size="59.5" fill="#262626">25</text>
<text filter="url(#bin)" transform="translate(1336.35,1389.8) scale(0.975,1)" text-anchor="middle" font-family="'Liberation Sans', Arial, Helvetica, sans-serif" font-size="59.5" fill="#262626">30</text>
<text filter="url(#bin)" transform="translate(1521.24,1389.8) scale(0.975,1)" text-anchor="middle" font-family="'Liberation Sans', Arial, Helvetica, sans-serif" font-size="59.5" fill="#262626">35</text>
<text filter="url(#bin)" transform="translate(1706.13,1389.8) scale(0.975,1)" text-anchor="middle" font-family="'Liberation Sans', Arial, Helvetica, sans-serif" font-size="59.5" fill="#262626">40</text>
<text filter="url(#bin)" transform="translate(1891.02,1389.8) scale(0.975,1)" text-anchor="middle" font-family="'Liberation Sans', Arial, Helvetica, sans-serif" font-size="59.5" fill="#262626">45</text>
<text filter="url(#bin)" transform="translate(1945,1326.70) scale(0.96,1)" font-family="'Liberation Sans', Arial, Helvetica, sans-serif" font-size="43" fill="#00FF00">30</text>
<text filter="url(#bin)" transform="translate(1945,1079.70) scale(0.96,1)" font-family="'Liberation Sans', Arial, Helvetica, sans-serif" font-size="43" fill="#00FF00">40</text>
<text filter="url(#bin)" transform="translate(1945,832.70) scale(0.96,1)" font-family="'Liberation Sans', Arial, Helvetica, sans-serif" font-size="43" fill="#00FF00">50</text>
<text filter="url(#bin)" transform="translate(1945,585.70) scale(0.96,1)" font-family="'Liberation Sans', Arial, Helvetica, sans-serif" font-size="43" fill="#00FF00">60</text>
<text filter="url(#bin)" transform="translate(1945,339.70) scale(0.96,1)" font-family="'Liberation Sans', Arial, Helvetica, sans-serif" font-size="43" fill="#00FF00">70</text>
<text filter="url(#bin)" transform="translate(1945,92.70) scale(0.96,1)" font-family="'Liberation Sans', Arial, Helvetica, sans-serif" font-size="43" fill="#00FF00">80</text>
<text filter="url(#bin)" x="1077" y="1472.8" text-anchor="middle" font-family="'Liberation Sans', Arial, Helvetica, sans-serif" font-size="63.8" fill="#262626">Observation records</text>
<text filter="url(#bin)" transform="translate(100.8,693.5) rotate(-90)" x="0" y="0" text-anchor="middle" font-family="'Liberation Sans', Arial, Helvetica, sans-serif" font-size="64" fill="#0072BD">SWH (m)</text>
<text filter="url(#bin)" transform="translate(2067.9,693.5) rotate(-90)" x="0" y="0" text-anchor="middle" font-family="'Liberation Sans', Arial, Helvetica, sans-serif" font-size="61.2" fill="#00FF00">Elevation angle(deg)</text>
<text filter="url(#bin)" transform="translate(404.4,1062.3) scale(1.02,1)" font-family="'Liberation Serif', 'Times New Roman', serif" font-size="49" fill="#000">Num = 46</text>
<text filter="url(#bin)" transform="translate(410,1149.6) scale(1.006,1)" font-family="'Liberation Serif', 'Times New Roman', serif" font-size="49" fill="#000">bias = 0.0026</text>
<text filter="url(#bin)" transform="translate(406.8,1242) scale(1.0,1)" font-family="'Liberation Serif', 'Times New Roman', serif" font-size="49" fill="#000">RMSE = 0.1671</text>
<text filter="url(#bin)" transform="translate(1433.9,1108) scale(1.013,1)" font-family="'Liberation Serif', 'Times New Roman', serif" font-size="49" fill="#000">MAPE = 8.26%</text>
<text filter="url(#bin)" transform="translate(1432.6,1197.8) scale(1.01,1)" font-family="'Liberation Serif', 'Times New Roman', serif" font-size="49" fill="#000">SI = 0.16</text>
<rect x="1301.5" y="152.5" width="497" height="247.5" fill="#ffffff" stroke="#262626" stroke-width="3"/>
<path d="M1354.65,198.50 L1378.12,184.95 L1378.12,212.05 Z" fill="none" stroke="#0000FF" stroke-width="5" shape-rendering="crispEdges"/>
<line x1="1323" y1="276.5" x2="1416" y2="276.5" stroke="#FF0000" stroke-width="5"/>
<path d="M1370.00,259.50 L1365.24,267.75 L1355.71,267.75 L1360.47,276.00 L1355.71,284.25 L1365.24,284.25 L1370.00,292.50 L1374.76,284.25 L1384.29,284.25 L1379.53,276.00 L1384.29,267.75 L1374.76,267.75 Z" fill="none" stroke="#FF0000" stroke-width="5" shape-rendering="crispEdges"/>
<line x1="1323" y1="354.3" x2="1416" y2="354.3" stroke="#00FF00" stroke-width="5" stroke-dasharray="17.7 14.75" shape-rendering="crispEdges"/>
<text filter="url(#bin)" transform="translate(1424.9,218) scale(1.0,1)" font-family="'Liberation Sans', Arial, Helvetica, sans-serif" font-size="50.5" fill="#000">Buoy</text>
<text filter="url(#bin)" transform="translate(1423.9,296.8) scale(1.036,1)" font-family="'Liberation Sans', Arial, Helvetica, sans-serif" font-size="50.5" fill="#000">ADNR</text>
<text filter="url(#bin)" transform="translate(1425,374.8) scale(1.02,1)" font-family="'Liberation Sans', Arial, Helvetica, sans-serif" font-size="50.5" fill="#000">Elevation angle</text>
</svg>
</body></html>
